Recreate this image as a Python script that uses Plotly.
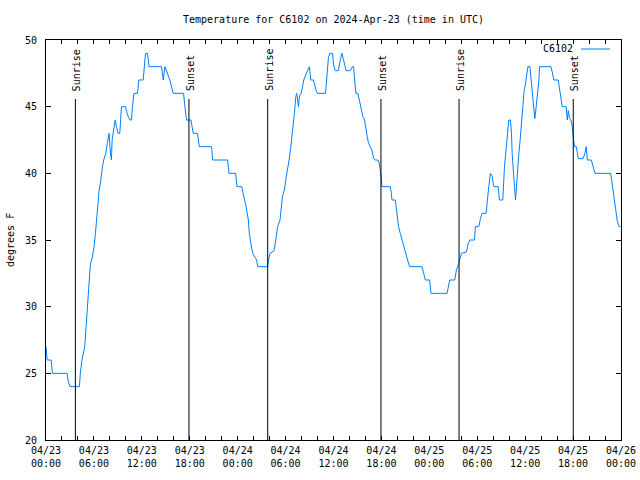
import pandas as pd
import plotly.graph_objects as go

# ---- data (hours since 2024-04-23 00:00 UTC, degrees F) ----
hours = [
    0.0, 0.15, 0.65, 0.7, 0.8, 2.65, 2.75, 3.0, 4.18, 4.3, 4.5, 4.85, 5.06, 5.23,
    5.35, 5.56, 5.77, 6.02, 6.19, 6.31, 6.44, 6.65, 6.82, 6.94, 7.07, 7.23, 7.49,
    7.69, 7.9, 8.07, 8.19, 8.28, 8.49, 8.66, 8.82, 9.03, 9.24, 9.32, 9.45, 9.95,
    10.2, 10.5, 10.7, 10.83, 11.0, 11.46, 11.62, 12.17, 12.29, 12.46, 12.71, 12.92,
    14.47, 14.68, 14.89, 15.09, 15.3, 15.51, 15.93, 17.23, 17.39, 17.6, 18.15,
    18.44, 18.98, 19.19, 20.74, 20.86, 22.75, 22.91, 23.75, 23.92, 24.5, 24.71,
    25.05, 25.34, 25.46, 25.67, 25.88, 26.38, 26.51, 27.76, 27.85, 28.06, 28.56,
    28.77, 29.0, 29.3, 29.4, 29.5, 29.6, 29.73, 29.85, 30.02, 30.27, 30.44, 30.61,
    30.77, 30.94, 31.11, 31.28, 31.4, 31.61, 31.74, 31.95, 32.11, 32.28, 32.53,
    32.78, 32.99, 33.16, 33.49, 33.83, 33.99, 35.0, 35.16, 35.37, 35.54, 35.88,
    36.0, 36.21, 36.63, 36.75, 37.05, 37.17, 37.38, 37.59, 38.09, 38.38, 38.51,
    38.64, 38.8, 39.05, 39.22, 39.47, 39.68, 39.89, 40.05, 40.22, 40.39, 40.6,
    40.81, 41.02, 41.23, 41.56, 41.73, 41.85, 41.98, 42.06, 43.11, 43.25, 43.32,
    43.74, 43.95, 44.15, 44.36, 44.57, 44.78, 44.99, 45.28, 45.53, 47.08, 47.29,
    47.5, 48.04, 48.21, 50.22, 50.34, 50.55, 51.18, 51.39, 51.68, 52.01, 52.64,
    52.85, 53.06, 53.65, 53.77, 54.19, 54.4, 54.61, 55.11, 55.23, 55.44, 55.65,
    55.86, 56.07, 56.62, 56.78, 57.2, 57.41, 57.62, 57.79, 57.95, 58.16, 58.29,
    58.37, 58.5, 58.66, 58.79, 58.91, 59.08, 59.21, 59.37, 59.5, 59.62, 59.75,
    59.87, 60.04, 60.21, 60.34, 60.59, 60.75, 60.88, 61.09, 61.21, 61.38, 61.59,
    61.72, 61.8, 63.22, 63.39, 63.6, 64.14, 64.31, 64.48, 64.64, 65.14, 65.27,
    65.4, 65.56, 65.73, 65.9, 66.06, 66.19, 66.4, 66.65, 67.24, 67.49, 67.65,
    67.78, 68.28, 68.49, 68.74, 70.71, 70.92, 71.12, 71.33, 71.54, 71.75, 71.92,
]
temps = [
    27.0, 26.0, 26.0, 25.5, 25.0, 25.0, 24.5, 24.0, 24.0, 25.0, 26.0, 27.0, 29.0, 30.4,
    31.6, 33.2, 33.6, 34.5, 35.5, 36.5, 37.6, 38.7, 39.3, 40.0, 40.5, 41.0, 41.5,
    42.3, 43.0, 41.5, 41.0, 42.5, 43.3, 44.0, 43.5, 43.0, 43.0, 44.0, 45.0, 45.0,
    44.4, 44.0, 44.0, 45.0, 46.0, 46.0, 47.0, 47.0, 48.0, 49.0, 49.0, 48.0,
    48.0, 47.0, 48.0, 47.7, 47.3, 47.0, 46.0, 46.0, 45.0, 44.0, 44.0,
    43.0, 43.0, 42.0, 42.0, 41.0, 41.0, 40.0, 40.0, 39.0, 39.0, 38.5,
    37.5, 36.5, 35.5, 34.7, 34.0, 33.5, 33.0, 33.0, 33.5, 34.0, 34.2,
    35.0, 36.0, 36.5, 37.2, 38.0, 38.2, 38.5, 38.75, 39.5, 40.25, 41.0, 41.75,
    42.5, 43.5, 44.5, 45.75, 46.0, 45.0, 45.8, 46.0, 46.5, 47.0, 47.4,
    47.7, 48.0, 47.0, 47.0, 46.2, 46.0, 46.0, 47.2, 48.7, 49.0, 49.0,
    48.2, 47.7, 47.7, 48.2, 49.0, 48.7, 48.0, 47.7, 47.7, 48.0, 48.0,
    47.0, 46.0, 46.0, 45.5, 45.0, 44.25, 44.0, 43.25, 42.75, 42.25, 42.0,
    41.75, 41.1, 41.0, 41.0, 40.75, 40.25, 39.75, 39.0, 39.0, 38.5, 38.0,
    38.0, 36.75, 36.0, 35.5, 35.0, 34.5, 34.0, 33.5, 33.0, 33.0, 32.5,
    32.0, 32.0, 31.0, 31.0, 31.5, 32.0, 32.0, 32.75, 33.25, 34.0, 34.1,
    34.7, 35.0, 35.0, 36.0, 36.0, 36.6, 37.0, 37.0, 38.0, 39.0, 40.0,
    39.8, 39.0, 39.0, 38.0, 38.0, 40.5, 42.0, 43.25, 44.0, 44.0, 43.0,
    41.5, 40.0, 39.0, 38.0, 39.2, 40.3, 41.5, 42.5, 43.5, 44.5, 45.5,
    46.2, 46.7, 47.5, 48.0, 48.0, 47.0, 46.0, 45.0, 44.1, 45.0, 46.2,
    47.0, 48.0, 48.0, 47.6, 47.0, 47.0, 46.2, 45.5, 45.0, 45.0, 44.0,
    44.7, 44.1, 44.0, 43.5, 42.5, 42.0, 42.0, 41.1, 41.1, 41.5, 42.0,
    41.0, 41.0, 40.5, 40.0, 40.0, 39.0, 38.25, 37.0, 36.4, 36.0, 36.0,
]
sunrise_hours = [3.68, 27.76, 51.72]
sunset_hours = [17.90, 41.94, 66.02]
station = "C6102"
title_text = "Temperature for C6102 on 2024-Apr-23 (time in UTC)"

base = pd.Timestamp("2024-04-23 00:00")
times = base + pd.to_timedelta(hours, unit="h")
rise_t = base + pd.to_timedelta(sunrise_hours, unit="h")
set_t = base + pd.to_timedelta(sunset_hours, unit="h")

FONT = "DejaVu Sans Mono"
L, R, T, B = 46, 19, 40, 40
PW = 640 - L - R
PH = 480 - T - B

fig = go.Figure()
fig.add_trace(go.Scatter(x=times, y=temps, mode="lines",
                         line=dict(color="#0080ff", width=1),
                         name=station, showlegend=False, hoverinfo="skip"))

shapes = []
annotations = []
line_top = (440 - 99) / PH
for label, ts in (("Sunrise", rise_t), ("Sunset", set_t)):
    for t in ts:
        shapes.append(dict(type="line", xref="x", yref="paper", x0=t, x1=t,
                           y0=0, y1=line_top, line=dict(color="black", width=1)))
        annotations.append(dict(x=t, y=(440 - 92) / PH, xref="x", yref="paper",
                                text=label, showarrow=False, textangle=-90,
                                xanchor="center", yanchor="bottom", xshift=1,
                                borderpad=0,
                                font=dict(family=FONT, size=10, color="black")))

# manual gnuplot-style key: text then line sample
ky = (440 - 49) / PH
annotations.append(dict(x=(574 - L) / PW, y=ky, xref="paper", yref="paper",
                        text=station, showarrow=False, xanchor="right",
                        yanchor="middle", borderpad=0,
                        font=dict(family=FONT, size=10, color="black")))
shapes.append(dict(type="line", xref="paper", yref="paper",
                   x0=(581 - L) / PW, x1=(610 - L) / PW, y0=ky, y1=ky,
                   line=dict(color="#0080ff", width=1)))
annotations.append(dict(x=(10 - L) / PW, y=0.5, xref="paper", yref="paper",
                        text="degrees F", showarrow=False, textangle=-90,
                        xanchor="center", yanchor="middle",
                        font=dict(family=FONT, size=10, color="black")))

fig.update_layout(
    width=640, height=480,
    margin=dict(l=L, r=R, t=T, b=B, autoexpand=False),
    paper_bgcolor="white", plot_bgcolor="white",
    font=dict(family=FONT, size=10, color="black"),
    title=dict(text=title_text, x=0.5, xref="paper", y=1 - 19 / 480,
               yref="container", yanchor="middle",
               font=dict(family=FONT, size=10, color="black")),
    shapes=shapes, annotations=annotations,
    hovermode=False,
    xaxis=dict(type="date", range=[base, base + pd.Timedelta(hours=72)],
               tick0=base, dtick=6 * 3600 * 1000, tickformat="%m/%d<br>%H:%M",
               ticks="inside", ticklen=4, tickcolor="black",
               showline=True, linecolor="black", linewidth=1, mirror="ticks",
               showgrid=False, zeroline=False, automargin=False,
               minor=dict(dtick=2 * 3600 * 1000, tick0=base, ticks="inside",
                          ticklen=4, tickcolor="black", showgrid=False),
               ticklabelstandoff=1),
    yaxis=dict(range=[20, 50], dtick=5, ticks="inside", ticklen=5,
               tickcolor="black", showline=True, linecolor="black",
               linewidth=1, mirror="ticks", showgrid=False, zeroline=False,
               automargin=False, ticklabelstandoff=6),
)

fig.write_html("out.html", config={"displayModeBar": False},
               post_script="document.body.style.margin='0';document.body.style.padding='0';")
